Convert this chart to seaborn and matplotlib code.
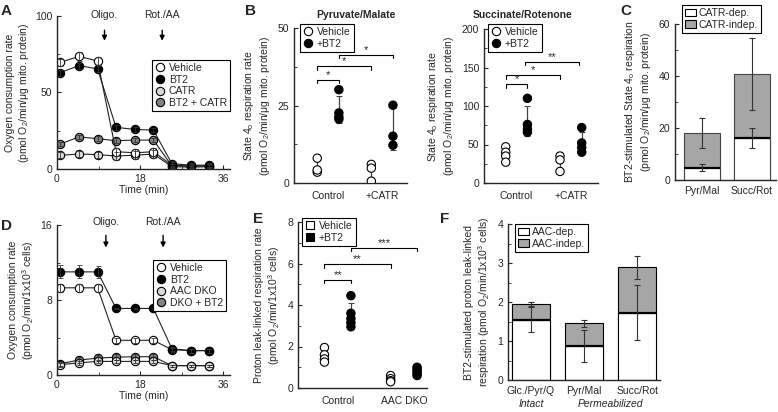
import numpy as np
import pandas as pd
import seaborn as sns
import matplotlib.pyplot as plt
from matplotlib.lines import Line2D
from matplotlib.patches import Patch
from matplotlib.ticker import MultipleLocator
import matplotlib.transforms as mtransforms

sns.set_style('ticks')
plt.rcParams['font.family'] = ['Liberation Sans', 'DejaVu Sans']
plt.rcParams['mathtext.fontset'] = 'custom'
plt.rcParams['mathtext.rm'] = 'Liberation Sans'
plt.rcParams['mathtext.it'] = 'Liberation Sans:italic'
plt.rcParams['mathtext.default'] = 'regular'
plt.rcParams['xtick.direction'] = 'in'
plt.rcParams['ytick.direction'] = 'in'
plt.rcParams['axes.linewidth'] = 1.0
plt.rcParams['xtick.major.size'] = 3
plt.rcParams['ytick.major.size'] = 3
plt.rcParams['xtick.minor.size'] = 2
plt.rcParams['ytick.minor.size'] = 2
plt.rcParams['font.size'] = 7.5

# ---- data: time courses (A, D) ----
time_min = [0.7, 4.8, 8.8, 12.8, 16.9, 20.9, 24.9, 29.0, 33.0]

a_labels = ['Vehicle', 'BT2', 'CATR', 'BT2 + CATR']
a_vehicle = [69.7, 73.6, 70.6, 11.3, 10.6, 11.3, 2.5, 2.0, 2.2]
a_bt2 = [63.0, 67.6, 65.4, 27.2, 25.9, 25.4, 3.5, 2.5, 2.5]
a_catr = [8.9, 9.8, 9.4, 8.5, 9.0, 9.8, 1.5, 1.2, 1.5]
a_bt2catr = [16.3, 21.0, 19.8, 18.5, 18.9, 18.9, 2.0, 1.8, 2.0]
a_vehicle_err = [2.5, 3.0, 2.5, 2.5, 2.5, 2.5, 2.0, 1.5, 1.5]
a_bt2_err = [2.0, 2.0, 2.0, 1.5, 1.5, 1.5, 1.5, 1.5, 1.5]
a_catr_err = [2.0, 2.0, 2.0, 2.5, 2.5, 2.5, 1.5, 1.0, 1.0]
a_bt2catr_err = [1.5, 1.5, 1.5, 1.5, 1.5, 1.5, 1.0, 1.0, 1.0]

d_labels = ['Vehicle', 'BT2', 'AAC DKO', 'DKO + BT2']
d_vehicle = [9.3, 9.3, 9.3, 3.7, 3.7, 3.7, 2.7, 2.6, 2.6]
d_bt2 = [11.0, 11.0, 11.0, 7.1, 7.1, 7.1, 2.8, 2.6, 2.6]
d_dko = [1.1, 1.3, 1.45, 1.45, 1.45, 1.45, 1.0, 1.0, 1.0]
d_dkobt2 = [1.2, 1.6, 1.8, 1.9, 1.95, 1.95, 1.0, 1.0, 1.0]
d_vehicle_err = [0.4, 0.4, 0.4, 0.3, 0.3, 0.3, 0.2, 0.2, 0.2]
d_bt2_err = [0.7, 0.7, 0.6, 0.1, 0.1, 0.1, 0.2, 0.2, 0.2]
d_dko_err = [0.2, 0.2, 0.2, 0.2, 0.2, 0.2, 0.1, 0.1, 0.1]
d_dkobt2_err = [0.2, 0.3, 0.3, 0.3, 0.3, 0.3, 0.1, 0.1, 0.1]

# ---- data: individual points (B, E) ----
treat_order = ['Vehicle', '+BT2']
b_conds = ['Control', '+CATR']
pm_ctl_veh = [8.0, 3.5, 4.2]
pm_ctl_bt2 = [30.1, 22.6, 21.3, 20.6]
pm_catr_veh = [6.0, 4.8, 0.6]
pm_catr_bt2 = [25.1, 15.1, 12.2]
sr_ctl_veh = [47, 40, 35, 27]
sr_ctl_bt2 = [110, 76, 70, 66]
sr_catr_veh = [35, 30, 15]
sr_catr_bt2 = [72, 52, 46, 40]

e_conds = ['Control', 'AAC DKO']
e_ctl_veh = [1.95, 1.6, 1.4, 1.25]
e_ctl_bt2 = [4.45, 3.6, 3.35, 3.15, 2.95]
e_dko_veh = [0.6, 0.45, 0.35, 0.3]
e_dko_bt2 = [1.0, 0.9, 0.8, 0.7, 0.6]

# ---- data: stacked bars (C, F) ----
c_cats = ['Pyr/Mal', 'Succ/Rot']
c_dep = [4.8, 16.2]
c_dep_err = [1.3, 3.9]
c_total = [18.0, 40.8]
c_indep_err = [5.7, 13.8]

f_cats = ['Glc./Pyr/Q', 'Pyr/Mal', 'Succ/Rot']
f_dep = [1.55, 0.88, 1.73]
f_dep_err = [0.33, 0.41, 0.71]
f_total = [1.94, 1.45, 2.89]
f_indep_err = [0.05, 0.09, 0.30]

W, H = 778, 412
fig = plt.figure(figsize=(W / 100, H / 100), dpi=100)


def px_axes(l, t, r, b):
    return fig.add_axes([l / W, 1 - b / H, (r - l) / W, (b - t) / H])


def px_legend(ax, handles, labels, x, y):
    leg = ax.legend(handles, labels, loc='upper left', bbox_to_anchor=(x / W, 1 - y / H),
                    bbox_transform=fig.transFigure, frameon=True, fancybox=False,
                    edgecolor='black', framealpha=1, borderpad=0.3, handletextpad=0.3,
                    labelspacing=0.15, handlelength=1.0, borderaxespad=0, fontsize=7.5)
    leg.get_frame().set_linewidth(0.8)
    return leg


def circ(fc):
    return Line2D([], [], marker='o', ls='none', mfc=fc, mec='black', mew=0.8, ms=6)


def time_course(ax, series, errs, fcs):
    for vals, err, fc in zip(series, errs, fcs):
        sns.lineplot(x=time_min, y=vals, ax=ax, color='#222222', lw=0.8, marker='o',
                     markersize=6, markerfacecolor=fc, markeredgecolor='black',
                     markeredgewidth=0.8)
        ax.errorbar(time_min, vals, yerr=err, fmt='none', ecolor='#333333',
                    elinewidth=0.6, capsize=1.8, capthick=0.6, zorder=3)
    ax.set_xlim(0, 37.5)
    ax.set_xticks([0, 18, 36])
    ax.xaxis.set_minor_locator(MultipleLocator(9))
    ax.set_xlabel('Time (min)', labelpad=1)
    sns.despine(ax=ax)


def arrow(ax, x, y_text, y_tail, y_tip, txt):
    ax.annotate('', xy=(x, y_tip), xytext=(x, y_tail), annotation_clip=False,
                arrowprops=dict(arrowstyle='-|>', color='black', lw=1, mutation_scale=7))
    ax.text(x, y_text, txt, ha='center', va='center', clip_on=False)


def points_panel(ax, conds, groups, ylim):
    rows = []
    for c, (veh, bt2) in zip(conds, groups):
        rows += [(c, 'Vehicle', v) for v in veh]
        rows += [(c, '+BT2', v) for v in bt2]
    df = pd.DataFrame(rows, columns=['cond', 'treat', 'val'])
    stats = df.groupby(['cond', 'treat'])['val'].agg(['mean', 'std'])
    for i, c in enumerate(conds):
        for j, t in enumerate(treat_order):
            ax.errorbar(i - 0.2 + 0.4 * j, stats.loc[(c, t), 'mean'], yerr=stats.loc[(c, t), 'std'],
                        fmt='none', ecolor='#444444', elinewidth=0.9, capsize=2.5, capthick=0.8,
                        zorder=2)
    sns.stripplot(data=df, x='cond', y='val', hue='treat', order=conds, hue_order=treat_order,
                  dodge=True, jitter=False, palette=['white', 'black'], edgecolor='black',
                  linewidth=0.8, size=6, ax=ax, legend=False, zorder=3)
    ax.set_ylim(*ylim)
    ax.set_xlabel('')
    ax.tick_params(axis='x', length=0, pad=6)
    sns.despine(ax=ax)


def bracket(ax, x1, x2, y, drop, txt):
    ax.plot([x1, x1, x2, x2], [y - drop, y, y, y - drop], color='black', lw=0.8, clip_on=False)
    ax.text((x1 + x2) / 2, y, txt, ha='center', va='bottom', fontsize=8, clip_on=False)


def stacked_panel(ax, cats, dep, dep_err, total, indep_err, edge):
    sns.barplot(x=cats, y=total, color='#a6a6a6', edgecolor=edge, linewidth=0.8, width=0.72,
                errorbar=None, ax=ax, saturation=1)
    sns.barplot(x=cats, y=dep, color='white', edgecolor=edge, linewidth=0.8, width=0.72,
                errorbar=None, ax=ax, saturation=1)
    xs = np.arange(len(cats))
    ax.hlines(dep, xs - 0.36, xs + 0.36, color='black', lw=1.6, zorder=4)
    ax.errorbar(xs, dep, yerr=dep_err, fmt='none', ecolor='#333333', elinewidth=0.8,
                capsize=2.5, capthick=0.8, zorder=5)
    ax.errorbar(xs, total, yerr=indep_err, fmt='none', ecolor='#333333', elinewidth=0.8,
                capsize=2.5, capthick=0.8, zorder=5)
    ax.tick_params(axis='x', length=0, pad=4)
    sns.despine(ax=ax)


# ---- A ----
axA = px_axes(57, 16, 230, 169)
fc4 = ['white', 'black', '#d9d9d9', '#808080']
time_course(axA, [a_bt2catr, a_catr, a_vehicle, a_bt2],
            [a_bt2catr_err, a_catr_err, a_vehicle_err, a_bt2_err],
            [fc4[3], fc4[2], fc4[0], fc4[1]])
axA.set_ylim(0, 100)
axA.set_yticks([0, 50, 100])
axA.yaxis.set_minor_locator(MultipleLocator(25))
axA.set_ylabel('Oxygen consumption rate\n(pmol O$_2$/min/\u03bcg mito. protein)', labelpad=3)
arrow(axA, 10.3, 100.5, 92.5, 82, 'Oligo.')
arrow(axA, 22.8, 100.5, 92.5, 82, 'Rot./AA')
px_legend(axA, [circ(c) for c in fc4], a_labels, 152, 60)

# ---- D ----
axD = px_axes(57, 225, 230, 375)
time_course(axD, [d_dkobt2, d_dko, d_vehicle, d_bt2],
            [d_dkobt2_err, d_dko_err, d_vehicle_err, d_bt2_err],
            [fc4[3], fc4[2], fc4[0], fc4[1]])
axD.set_ylim(0, 16)
axD.set_yticks([0, 8, 16])
axD.yaxis.set_minor_locator(MultipleLocator(4))
axD.set_ylabel('Oxygen consumption rate\n(pmol O$_2$/min/1x10$^3$ cells)', labelpad=3)
arrow(axD, 10.6, 16.35, 15.2, 13.3, 'Oligo.')
arrow(axD, 23.0, 16.35, 15.2, 13.3, 'Rot./AA')
px_legend(axD, [circ(c) for c in fc4], d_labels, 153, 260)

# ---- B ----
axB1 = px_axes(294, 28, 407, 183)
points_panel(axB1, b_conds, [(pm_ctl_veh, pm_ctl_bt2), (pm_catr_veh, pm_catr_bt2)], (0, 50))
axB1.set_xlim(-0.63, 1.46)
axB1.set_yticks([0, 25, 50])
axB1.yaxis.set_minor_locator(MultipleLocator(12.5))
axB1.set_ylabel('State 4$_o$ respiration rate\n(pmol O$_2$/min/\u03bcg mito. protein)', labelpad=4)
bracket(axB1, -0.2, 0.2, 33.3, 1.1, '*')
bracket(axB1, -0.2, 0.8, 37.6, 1.1, '*')
bracket(axB1, 0.2, 1.2, 41.4, 1.1, '*')
px_legend(axB1, [circ('white'), circ('black')], treat_order, 300, 24)

axB2 = px_axes(484, 29, 598, 183)
points_panel(axB2, b_conds, [(sr_ctl_veh, sr_ctl_bt2), (sr_catr_veh, sr_catr_bt2)], (0, 200))
axB2.set_xlim(-0.6, 1.5)
axB2.set_yticks([0, 50, 100, 150, 200])
axB2.yaxis.set_minor_locator(MultipleLocator(25))
axB2.set_ylabel('State 4$_o$ respiration rate\n(pmol O$_2$/min/\u03bcg mito. protein)', labelpad=4)
bracket(axB2, -0.2, 0.2, 128, 4.3, '*')
bracket(axB2, -0.2, 0.8, 140, 4.3, '*')
bracket(axB2, 0.15, 1.15, 157.5, 4.3, '**')
px_legend(axB2, [circ('white'), circ('black')], treat_order, 488, 24)

fig.text(356 / W, 1 - 15 / H, 'Pyruvate/Malate', ha='center', va='center', fontsize=7.5,
         fontweight='bold')
fig.text(523 / W, 1 - 15 / H, 'Succinate/Rotenone', ha='center', va='center', fontsize=7.5,
         fontweight='bold')

# ---- C ----
axC = px_axes(675, 24, 776, 180)
stacked_panel(axC, c_cats, c_dep, c_dep_err, c_total, c_indep_err, '#444444')
axC.set_xlim(-0.54, 1.48)
axC.set_ylim(0, 60)
axC.set_yticks([0, 20, 40, 60])
axC.yaxis.set_minor_locator(MultipleLocator(10))
axC.set_ylabel('BT2-stimulated State 4$_o$ respiration\n(pmol O$_2$/min/\u03bcg mito. protein)',
               labelpad=4)
sq = dict(edgecolor='black', linewidth=0.8)
px_legend(axC, [Patch(facecolor='white', **sq), Patch(facecolor='#a6a6a6', **sq)],
          ['CATR-dep.', 'CATR-indep.'], 682, 5)

# ---- E ----
axE = px_axes(298, 222, 427, 388)
points_panel(axE, e_conds, [(e_ctl_veh, e_ctl_bt2), (e_dko_veh, e_dko_bt2)], (0, 8))
axE.set_xlim(-0.6, 1.35)
axE.set_yticks([0, 2, 4, 6, 8])
axE.yaxis.set_minor_locator(MultipleLocator(1))
axE.set_ylabel('Proton leak-linked respiration rate\n(pmol O$_2$/min/1x10$^3$ cells)', labelpad=4)
bracket(axE, -0.2, 0.2, 5.2, 0.16, '**')
bracket(axE, -0.2, 0.8, 5.96, 0.16, '**')
bracket(axE, 0.2, 1.2, 6.75, 0.16, '***')
sqE = [Line2D([], [], marker='s', ls='none', mfc=c, mec='black', mew=0.8, ms=6)
       for c in ['white', 'black']]
px_legend(axE, sqE, treat_order, 302, 218)

# ---- F ----
axF = px_axes(508, 224, 660, 380)
stacked_panel(axF, f_cats, f_dep, f_dep_err, f_total, f_indep_err, 'black')
axF.set_xlim(-0.43, 2.43)
axF.set_ylim(0, 4)
axF.set_yticks([0, 1, 2, 3, 4])
axF.yaxis.set_minor_locator(MultipleLocator(0.5))
axF.set_ylabel('BT2-stimulated proton leak-linked\nrespiration (pmol O$_2$/min/1x10$^3$ cells)',
               labelpad=4)
trF = mtransforms.blended_transform_factory(axF.transData, axF.transAxes)
axF.text(0, -0.155, 'Intact', transform=trF, ha='center', va='center', style='italic')
axF.text(1.5, -0.155, 'Permeabilized', transform=trF, ha='center', va='center', style='italic')
px_legend(axF, [Patch(facecolor='white', **sq), Patch(facecolor='#a6a6a6', **sq)],
          ['AAC-dep.', 'AAC-indep.'], 515, 224)

for ax in [axA, axD, axB1, axB2, axC, axE, axF]:
    ax.tick_params(axis='both', which='both', labelsize=7.5)

# panel letters
for letter, x, y in [('A', 1, 4), ('B', 245, 4), ('C', 620, 4),
                     ('D', 1, 219), ('E', 253, 212), ('F', 440, 212)]:
    fig.text(x / W, 1 - y / H, letter, ha='left', va='top', fontsize=11, fontweight='bold')

fig.savefig('out.png', dpi=100)
